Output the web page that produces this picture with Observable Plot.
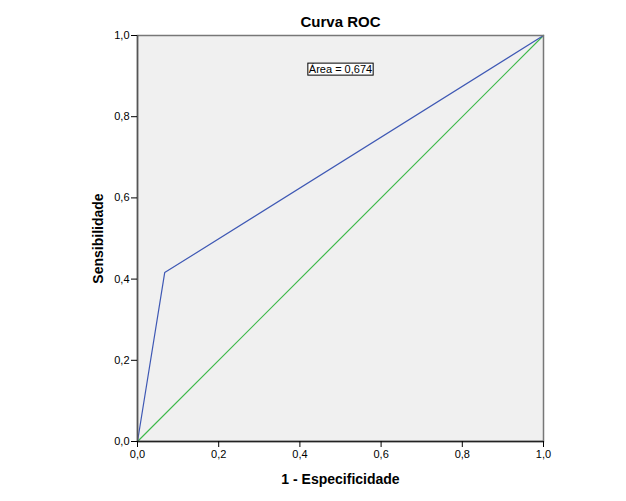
<!DOCTYPE html>
<html><head><meta charset="utf-8">
<script src="https://cdn.jsdelivr.net/npm/d3@7"></script>
<script src="https://cdn.jsdelivr.net/npm/@observablehq/plot@0.6"></script>
<style>body{margin:0;background:#fff;font-family:"Liberation Sans",Arial,sans-serif}</style>
</head><body><div id="chart"></div>
<script>
const rocFPR = [0, 0.067, 1];
const rocTPR = [0, 0.416, 1];
const refX = [0, 1];
const refY = [0, 1];
const ticks = [0, 0.2, 0.4, 0.6, 0.8, 1.0];
const areaLabel = "Área = 0,674";
const labelPos = {x: 0.5, y: 0.916};

const roc = rocFPR.map((x, i) => ({x, y: rocTPR[i]}));
const ref = refX.map((x, i) => ({x, y: refY[i]}));
const fmt = d => d3.format(".1f")(d).replace(".", ",");

const chart = Plot.plot({
  width: 626, height: 501,
  marginLeft: 137, marginRight: 83, marginTop: 35, marginBottom: 60,
  style: {fontFamily: "Liberation Sans, Arial, sans-serif", fontSize: "11px", background: "#fff", color: "#000"},
  x: {domain: [0, 1], ticks, tickFormat: fmt, tickSize: 6, tickPadding: 3, label: null},
  y: {domain: [0, 1], ticks, tickFormat: fmt, tickSize: 6, tickPadding: 2, label: null},
  marks: [
    Plot.frame({fill: "#f0f0f0"}),
    Plot.line(ref, {x: "x", y: "y", stroke: "#3db94a", strokeWidth: 1.2}),
    Plot.line(roc, {x: "x", y: "y", stroke: "#3e58b4", strokeWidth: 1.2}),
    Plot.frame({stroke: "#777", strokeWidth: 1.5}),
    Plot.ruleX([0], {stroke: "#555", strokeWidth: 1.5}),
    Plot.ruleY([0], {stroke: "#222", strokeWidth: 1.5}),
    Plot.axisX({ticks, tickFormat: fmt, tickSize: 6, tickPadding: 3, label: null}),
    Plot.axisY({ticks, tickFormat: fmt, tickSize: 6, tickPadding: 2, label: null}),
    Plot.text([areaLabel], {x: () => labelPos.x, y: () => labelPos.y, fontSize: 11, fill: "#000", className: "area-label"}),
    Plot.text(["Curva ROC"], {frameAnchor: "top", lineAnchor: "middle", dy: -13, fontSize: 15, fontWeight: "bold", fill: "#000"}),
    Plot.text(["1 - Especificidade"], {frameAnchor: "bottom", lineAnchor: "middle", dy: 38, fontSize: 14, fontWeight: "bold", fill: "#000"}),
    Plot.text(["Sensibilidade"], {frameAnchor: "left", textAnchor: "middle", lineAnchor: "middle", dx: -39, rotate: -90, fontSize: 14, fontWeight: "bold", fill: "#000"})
  ]
});
document.getElementById("chart").appendChild(chart);
// box around the area label
const g = d3.select(chart).select("g.area-label");
g.selectAll("text").each(function() {
  const b = this.getBBox();
  d3.select(this.parentNode).insert("rect", () => this)
    .attr("x", b.x - 1).attr("y", b.y).attr("width", b.width + 2).attr("height", b.height)
    .attr("fill", "#fff").attr("stroke", "#000").attr("stroke-width", 1)
    .attr("transform", this.getAttribute("transform"));
});
</script>
</body></html>
